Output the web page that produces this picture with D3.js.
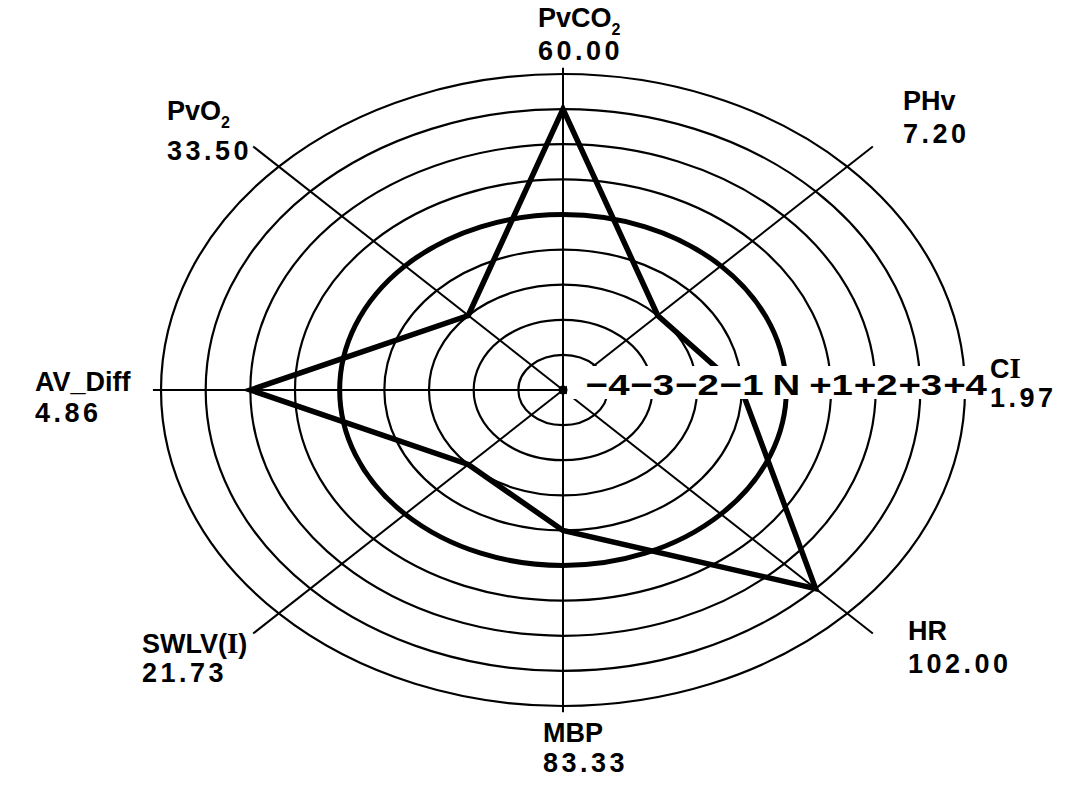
<!DOCTYPE html>
<html>
<head>
<meta charset="utf-8">
<script src="https://cdn.jsdelivr.net/npm/d3@7"></script>
<style>
  html, body { margin: 0; padding: 0; background: #fff; }
  svg { display: block; }
</style>
</head>
<body>
<svg id="chart" width="1065" height="785"></svg>
<script>
// ---- data ----
const categories = ["PvCO2", "PHv", "CI", "HR", "MBP", "SWLV(I)", "AV_Diff", "PvO2"];
const valueLabels = ["60.00", "7.20", "1.97", "102.00", "83.33", "21.73", "4.86", "33.50"];
const scores = [3, -2, -1, 3, -1, -2, 2, -2];           // deviation from normal (N = 0)
const ringLevels = [-4, -3, -2, -1, 0, 1, 2, 3, 4];
const ringLabels = ["\u22124", "\u22123", "\u22122", "\u22121", "N", "+1", "+2", "+3", "+4"];

// ---- layout ----
const cx = 563, cy = 390, RX = 402, RY = 316;
const labelLayout = [
  {x: 538, y1: 27,  y2: 60},
  {x: 903, y1: 110, y2: 143},
  {x: 990, y1: 378, y2: 407},
  {x: 908, y1: 640, y2: 673},
  {x: 543, y1: 742, y2: 772},
  {x: 142, y1: 653, y2: 682},
  {x: 35,  y1: 391, y2: 422},
  {x: 167, y1: 120, y2: 160}
];

const svg = d3.select("#chart");
const r = d3.scaleLinear().domain([-5, 4]).range([0, 1]);
const angle = d3.scaleLinear().domain([0, categories.length]).range([0, 2 * Math.PI]);
const px = (i, f) => cx + Math.sin(angle(i)) * RX * f;
const py = (i, f) => cy - Math.cos(angle(i)) * RY * f;

// rings
svg.append("g").selectAll("ellipse").data(ringLevels).join("ellipse")
  .attr("cx", cx).attr("cy", cy)
  .attr("rx", d => RX * r(d)).attr("ry", d => RY * r(d))
  .attr("fill", "none").attr("stroke", "#000")
  .attr("stroke-width", d => d === 0 ? 5 : 2.2);

// spokes
svg.append("g").selectAll("line").data(categories).join("line")
  .attr("x1", cx).attr("y1", cy)
  .attr("x2", (d, i) => px(i, i % 2 ? 1.09 : 1.02))
  .attr("y2", (d, i) => py(i, i % 2 ? 1.09 : 1.02))
  .attr("stroke", "#000").attr("stroke-width", 2);

// data polygon
const line = d3.line().curve(d3.curveLinearClosed);
svg.append("path")
  .attr("d", line(scores.map((s, i) => [px(i, r(s)), py(i, r(s))])))
  .attr("fill", "none").attr("stroke", "#000")
  .attr("stroke-width", 5.5).attr("stroke-linejoin", "miter");

// white band behind ring labels
svg.append("rect").attr("x", 567).attr("y", 366).attr("width", 420).attr("height", 33).attr("fill", "#fff");

// center dot
svg.append("circle").attr("cx", cx).attr("cy", cy).attr("r", 4.5).attr("fill", "#000");

// ring labels
svg.append("g").selectAll("text").data(ringLevels).join("text")
  .attr("transform", d => `translate(${cx + RX * r(d)},395) scale(1.28,1)`)
  .attr("text-anchor", "middle")
  .attr("font-family", "Liberation Sans, Arial, sans-serif")
  .attr("font-weight", "bold").attr("font-size", 30)
  .text((d, i) => ringLabels[i]);

// category labels
const g = svg.append("g").attr("font-family", "Liberation Sans, Arial, sans-serif").attr("font-weight", "bold");
categories.forEach((name, i) => {
  const L = labelLayout[i];
  const t = g.append("text").attr("x", L.x).attr("y", L.y1).attr("font-size", 27);
  const m = name.match(/^(.*O)2$/);
  if (m) {
    t.append("tspan").text(m[1]);
    t.append("tspan").attr("font-size", 16).attr("dy", 8).text("2");
  } else if (name.includes("I") && name !== "AV_Diff") {
    name.split(/(I)/).forEach(part => {
      if (!part) return;
      const s = t.append("tspan").text(part);
      if (part === "I") s.attr("font-family", "Liberation Serif, Times New Roman, serif").attr("font-size", 29);
    });
  } else {
    t.text(name);
  }
  g.append("text").attr("x", L.x).attr("y", L.y2).attr("font-size", 27)
    .attr("letter-spacing", 3.5).text(valueLabels[i]);
});
</script>
</body>
</html>
